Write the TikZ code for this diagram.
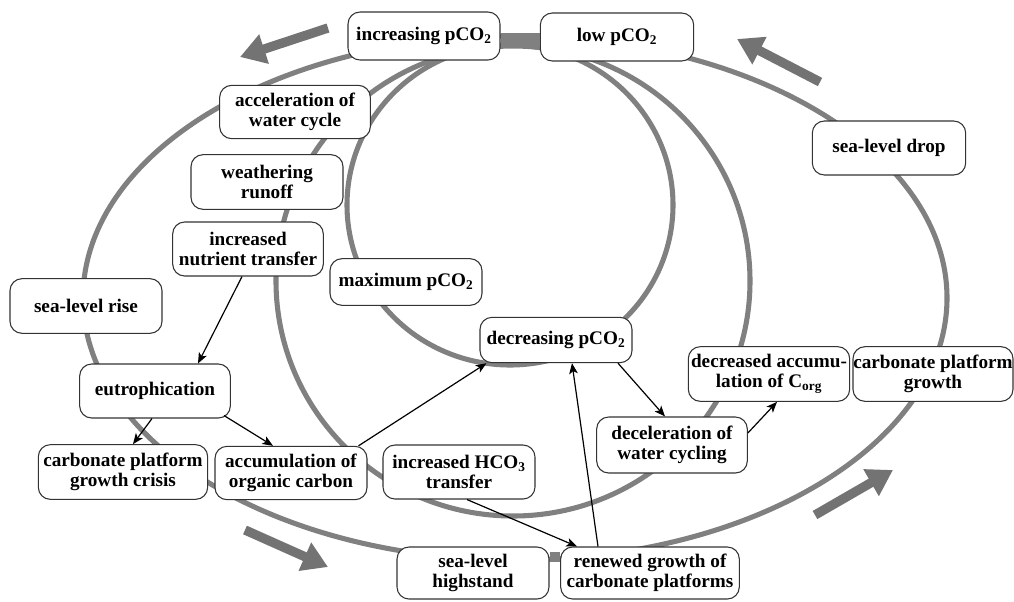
\documentclass[tikz,border=0pt]{standalone}
\usepackage{fontspec}
\setmainfont{Liberation Serif}
\usetikzlibrary{arrows.meta,calc}
\begin{document}
\begin{tikzpicture}[x=0.75pt,y=-0.75pt,
  box/.style={draw=black!80, line width=0.8pt, fill=white, rounded corners=9pt,
    align=center, inner sep=0pt, font=\fontsize{14.4}{14.8}\selectfont\bfseries},
  loopline/.style={draw=black!50, line width=3.8pt},
  band/.style={draw=black!50, line width=10pt},
  bigarrow/.style={draw=black!55, line width=7pt, -{Triangle[length=19pt,width=22pt]}},
  arr/.style={draw=black, line width=0.9pt, -{Stealth[length=8pt,width=6.5pt,inset=2pt]}}
]
\fill[white] (0,0) rectangle (1014,601);
\useasboundingbox (0,0) rectangle (1014,601);

% gray loops
\draw[loopline] (515,298) ellipse [x radius=432, y radius=262];
\draw[loopline] (513,281) ellipse [x radius=237, y radius=235];
\draw[loopline] (510,205) ellipse [x radius=163, y radius=160];

% big gray arrows
\coordinate (g1t) at (328,28);  \coordinate (g1h) at (240,57);
\coordinate (g2t) at (820,82);  \coordinate (g2h) at (737,39);
\coordinate (g3t) at (245,530); \coordinate (g3h) at (328,567);
\coordinate (g4t) at (815,515); \coordinate (g4h) at (893,470);
\draw[bigarrow] (g1t) -- (g1h);
\draw[bigarrow] (g2t) -- (g2h);
\draw[bigarrow] (g3t) -- (g3h);
\draw[bigarrow] (g4t) -- (g4h);

% nodes
\node[box, minimum width=114pt, minimum height=36pt] (inc) at (424,36) {increasing pCO\textsubscript{2}};
\node[box, minimum width=115pt, minimum height=36pt] (low) at (617,37) {low pCO\textsubscript{2}};
\node[box, minimum width=113pt, minimum height=40pt] (acc) at (295,112) {acceleration of\\water cycle};
\node[box, minimum width=114pt, minimum height=41pt] (wea) at (267,182) {weathering\\runoff};
\node[box, minimum width=113pt, minimum height=40.5pt] (nut) at (248,249) {increased\\nutrient transfer};
\node[box, minimum width=114pt, minimum height=35pt] (max) at (406,282) {maximum pCO\textsubscript{2}};
\node[box, minimum width=114pt, minimum height=41pt] (slr) at (86,306) {sea-level rise};
\node[box, minimum width=113pt, minimum height=40.5pt] (eut) at (155,391) {eutrophication};
\node[box, minimum width=127pt, minimum height=41pt] (cri) at (123,472) {carbonate platform\\growth crisis};
\node[box, minimum width=114pt, minimum height=40pt] (aoc) at (291,473) {accumulation of\\organic carbon};
\node[box, minimum width=114pt, minimum height=40.5pt] (hco) at (459,472) {increased HCO\textsubscript{3}\\transfer};
\node[box, minimum width=114pt, minimum height=39pt] (hig) at (473,573) {sea-level\\highstand};
\node[box, minimum width=134pt, minimum height=39pt] (ren) at (650,573) {renewed growth of\\carbonate platforms};
\node[box, minimum width=114pt, minimum height=34pt] (dec) at (556,340) {decreasing pCO\textsubscript{2}};
\node[box, minimum width=121pt, minimum height=41pt] (dac) at (769,374) {decreased accumu-\\lation of C\textsubscript{org}};
\node[box, minimum width=120pt, minimum height=41pt] (cpg) at (933,374) {carbonate platform\\growth};
\node[box, minimum width=113pt, minimum height=42pt] (dwc) at (672,445) {deceleration of\\water cycling};
\node[box, minimum width=115pt, minimum height=40.5pt] (sld) at (889,148) {sea-level drop};

% thick gray bands between adjacent boxes
\draw[band] ($(inc.east)+(0,4)$) -- ($(low.west)+(0,3)$);
\draw[band, line width=7pt] ($(hig.east)+(0,-16)$) -- ($(ren.west)+(0,-16)$);

% black arrows
\draw[arr] ($(nut.south)+(-6,0)$) -- ($(eut.north)+(43,0)$);
\draw[arr] ($(eut.south)+(-3,0)$) -- ($(cri.north)+(10,0)$);
\draw[arr] ($(eut.south)+(69,-3)$) -- ($(aoc.north)+(-18,0)$);
\draw[arr] ($(aoc.north east)+(-9,0)$) -- ($(dec.south west)+(7,0)$);
\draw[arr] ($(hco.south)+(8,0)$) -- ($(ren.north)+(-73,0)$);
\draw[arr] ($(ren.north)+(-52,0)$) -- ($(dec.south)+(16,0)$);
\draw[arr] ($(dec.south)+(62,0)$) -- ($(dwc.north)+(-7,0)$);
\draw[arr] ($(dwc.east)+(0,-12)$) -- ($(dac.south)+(8,0)$);
\end{tikzpicture}
\end{document}
